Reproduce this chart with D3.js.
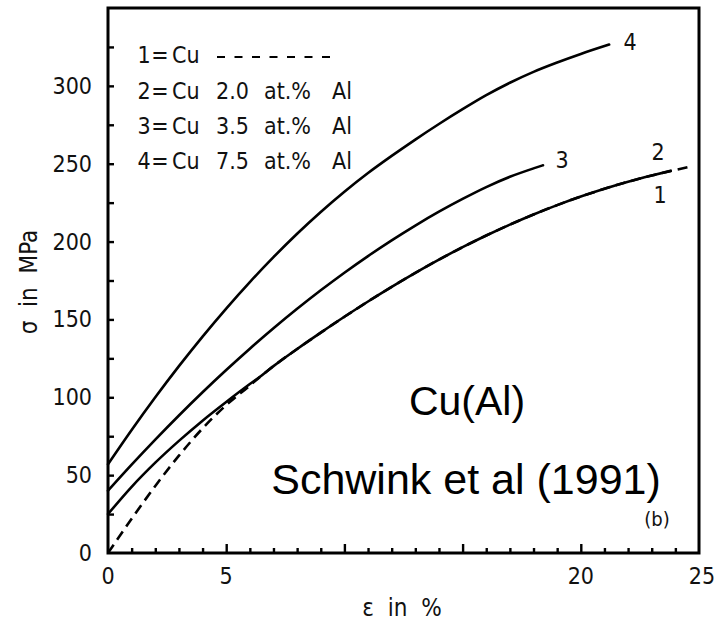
<!DOCTYPE html>
<meta charset="utf-8">
<script src="https://cdn.jsdelivr.net/npm/d3@7"></script>
<style>
body { margin: 0; background: #fff; }
.scan { font-family: "DejaVu Sans Condensed", "DejaVu Sans", sans-serif; font-stretch: condensed; fill: #111; }
.curve { fill: none; stroke: #000; stroke-width: 2.6px; }
.frame { fill: none; stroke: #000; stroke-width: 3px; }
.note { font-family: "Liberation Sans", Arial, sans-serif; fill: #000; }
</style>
<body>
<script>

let width = 728,
    height = 621;

// strain (%) and stress (MPa)
let eps1 = [0, 1, 2, 3, 4, 5, 6, 6.5, 7, 8, 9, 10, 11, 12, 13, 14, 15, 16, 17, 18, 19, 20, 21, 22, 23, 24, 24.6];
let sig1 = [0, 22, 43, 62.5, 80, 95, 107.5, 114, 120, 131, 141.5, 151.7, 161.5, 170.9, 179.9, 188.4, 196.4, 203.9, 210.9, 217.4, 223.4, 228.9, 233.9, 238.4, 242.4, 246, 248];

let eps2 = [0, 1, 2, 3, 4, 5, 6, 6.5, 7, 8, 9, 10, 11, 12, 13, 14, 15, 16, 17, 18, 19, 20, 21, 22, 23, 23.8];
let sig2 = [25, 42.5, 58, 72, 85, 97, 108.5, 114, 120, 131, 141.5, 151.7, 161.5, 170.9, 179.9, 188.4, 196.4, 203.9, 210.9, 217.4, 223.4, 228.9, 233.9, 238.4, 242.4, 245.4];

let eps3 = [0, 1, 2, 3, 4, 5, 6, 7, 8, 9, 10, 11, 12, 13, 14, 15, 16, 17, 18, 18.4];
let sig3 = [40, 56.7, 72.8, 88.3, 103.2, 117.5, 131.2, 144.3, 156.8, 168.7, 180, 190.7, 200.8, 210.3, 219.2, 227.4, 235, 241.6, 247, 249];

let eps4 = [0, 1, 2, 3, 4, 5, 6, 7, 8, 9, 10, 11, 12, 13, 14, 15, 16, 17, 18, 19, 20, 21.2];
let sig4 = [57, 79, 100, 120, 139, 157, 174, 190, 205, 219, 232, 244, 255, 265.5, 275.5, 285, 294, 302, 309, 315, 320.5, 326.5];

let xTickLabels = [0, 5, 20, 25];
let yTickLabels = [0, 50, 100, 150, 200, 250, 300];
let legendNums = ["1", "2", "3", "4"];
let legendConc = ["", "2.0", "3.5", "7.5"];

let svg = d3.select("body").append("svg")
    .attr("width", width)
    .attr("height", height);

let x = d3.scaleLinear().domain([0, 25]).range([108, 699]);
let y = d3.scaleLinear().domain([0, 350]).range([553, 8]);

// frame
svg.append("rect")
    .attr("class", "frame")
    .attr("x", x(0)).attr("y", y(350))
    .attr("width", x(25) - x(0)).attr("height", y(0) - y(350));

// inward ticks on x axis
let xAxis = d3.axisTop(x).tickValues(d3.range(1, 25)).tickSize(5).tickFormat("");
let gx = svg.append("g").attr("transform", `translate(0,${y(0)})`).call(xAxis);
gx.select(".domain").remove();
gx.selectAll(".tick line")
    .attr("stroke-width", 2.4)
    .attr("y2", d => d % 5 === 0 ? -9 : -5);

// inward ticks on y axis
let yAxis = d3.axisRight(y).tickValues(d3.range(25, 350, 25)).tickSize(6).tickFormat("");
let gy = svg.append("g").attr("transform", `translate(${x(0)},0)`).call(yAxis);
gy.select(".domain").remove();
gy.selectAll(".tick line").attr("stroke-width", 2.4);

// tick labels
svg.selectAll(".xlab").data(xTickLabels).enter().append("text")
    .attr("class", "scan xlab")
    .attr("x", d => x(d) + (d === 25 ? 3 : 0))
    .attr("y", 584)
    .attr("text-anchor", "middle")
    .style("font-size", "23px")
    .text(d => d);

svg.selectAll(".ylab").data(yTickLabels).enter().append("text")
    .attr("class", "scan ylab")
    .attr("x", 92)
    .attr("y", d => y(d) + 8)
    .attr("text-anchor", "end")
    .style("font-size", "23px")
    .text(d => d);

// axis titles
svg.append("text")
    .attr("class", "scan")
    .attr("x", 402).attr("y", 616)
    .attr("text-anchor", "middle")
    .style("font-size", "24px")
    .style("white-space", "pre")
    .text("ε  in  %");

svg.append("text")
    .attr("class", "scan")
    .attr("transform", "translate(37,282) rotate(-90)")
    .attr("text-anchor", "middle")
    .style("font-size", "24px")
    .style("white-space", "pre")
    .text("σ  in  MPa");

// curves
let line = d3.line()
    .x(d => x(d[0]))
    .y(d => y(d[1]))
    .curve(d3.curveMonotoneX);

let curves = [
  { e: eps1, s: sig1, dash: "10,6" },
  { e: eps2, s: sig2, dash: null },
  { e: eps3, s: sig3, dash: null },
  { e: eps4, s: sig4, dash: null }
];

curves.forEach(c => {
  svg.append("path")
      .datum(d3.zip(c.e, c.s))
      .attr("class", "curve")
      .attr("stroke-dasharray", c.dash)
      .attr("stroke-linecap", c.dash ? "butt" : "round")
      .attr("d", line);
});

// curve numbers
let endLabels = [[660, 203, "1"], [658, 160, "2"], [562, 168, "3"], [630, 50, "4"]];
svg.selectAll(".endlab").data(endLabels).enter().append("text")
    .attr("class", "scan endlab")
    .attr("x", d => d[0]).attr("y", d => d[1])
    .attr("text-anchor", "middle")
    .style("font-size", "23px")
    .text(d => d[2]);

// legend
let rowY = [63, 99, 134, 169];
legendNums.forEach((n, i) => {
  let g = svg.append("g").attr("class", "scan").style("font-size", "23px");
  g.append("text").attr("x", 144).attr("y", rowY[i]).attr("text-anchor", "middle").text(n);
  g.append("text").attr("x", 160).attr("y", rowY[i]).attr("text-anchor", "middle").text("=");
  g.append("text").attr("x", 172).attr("y", rowY[i]).text("Cu");
  if (i === 0) {
    g.append("line")
        .attr("x1", 217).attr("x2", 334)
        .attr("y1", rowY[i] - 6).attr("y2", rowY[i] - 6)
        .attr("stroke", "#000").attr("stroke-width", 2)
        .attr("stroke-dasharray", "8,9.5");
  } else {
    g.append("text").attr("x", 216).attr("y", rowY[i]).text(legendConc[i]);
    g.append("text").attr("x", 264).attr("y", rowY[i]).text("at.%");
    g.append("text").attr("x", 332).attr("y", rowY[i]).text("Al");
  }
});

// annotations
svg.append("text").attr("class", "note")
    .attr("x", 467).attr("y", 415)
    .attr("text-anchor", "middle")
    .style("font-size", "41px")
    .text("Cu(Al)");

svg.append("text").attr("class", "note")
    .attr("x", 466).attr("y", 494)
    .attr("text-anchor", "middle")
    .style("font-size", "43px")
    .text("Schwink et al (1991)");

svg.append("text").attr("class", "scan")
    .attr("x", 657).attr("y", 526)
    .attr("text-anchor", "middle")
    .style("font-size", "20px")
    .text("(b)");

</script>
